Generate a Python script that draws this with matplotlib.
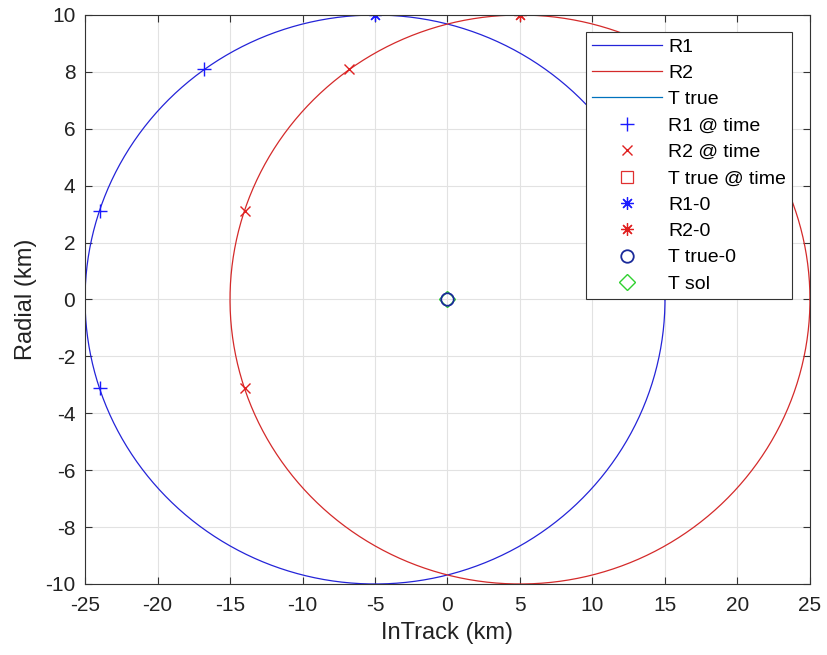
import numpy as np
import matplotlib
matplotlib.use("Agg")
import matplotlib.pyplot as plt

plt.rcParams['font.family'] = ['Liberation Sans', 'DejaVu Sans']
plt.rcParams['axes.unicode_minus'] = False

# ---- data ----
# ellipses (centre x, centre y, semi-axis x, semi-axis y)
r1_ell = (-5.0, 0.0, 20.0, 10.0)
r2_ell = (5.0, 0.0, 20.0, 10.0)
t_true_x, t_true_y = [0.0], [0.0]
r1_time_x = [-16.8, -24.0, -24.0]
r1_time_y = [8.1, 3.1, -3.1]
r2_time_x = [-6.8, -14.0, -14.0]
r2_time_y = [8.1, 3.1, -3.1]
t_time_x, t_time_y = [], []
r1_0 = ([-5.0], [10.0])
r2_0 = ([5.0], [10.0])
t_true0 = ([0.0], [0.0])
t_sol = ([0.0], [0.0])
xticks = np.arange(-25, 26, 5)
yticks = np.arange(-10, 11, 2)

def ellipse_pts(e, n=400):
    th = np.linspace(0, 2 * np.pi, n)
    return e[0] + e[2] * np.cos(th), e[1] + e[3] * np.sin(th)

fig = plt.figure(figsize=(8.27, 6.55), dpi=100)
ax = fig.add_axes([0.1028, 0.1084, 0.8766, 0.8687])

blue, red = '#2424d8', '#d42a2a'
star = (8, 2, 0)   # 8-spoke asterisk like matlab '*'
ax.plot(*ellipse_pts(r1_ell), color=blue, lw=0.9, label='R1')
ax.plot(*ellipse_pts(r2_ell), color=red, lw=0.9, label='R2')
ax.plot(t_true_x, t_true_y, color='#0072BD', lw=0.9, label='T true')
ax.plot(r1_time_x, r1_time_y, '+', color='#1a1aff', ms=10, mew=1.0, label='R1 @ time')
ax.plot(r2_time_x, r2_time_y, 'x', color='#e02020', ms=7, mew=1.0, label='R2 @ time')
ax.plot(t_time_x, t_time_y, 's', mfc='none', mec='#e03030', ms=8, mew=0.9, label='T true @ time')
ax.plot(*r1_0, marker=star, ls='none', color='#1a1aff', ms=9, mew=0.9, label='R1-0')
ax.plot(*r2_0, marker=star, ls='none', color='#e02020', ms=9, mew=0.9, label='R2-0')
ax.plot(*t_true0, 'o', mfc='none', mec='#1a2a9a', ms=9, mew=1.3, label='T true-0', zorder=4)
ax.plot(*t_sol, 'D', mfc='none', mec='#30d030', ms=8, mew=1.0, label='T sol', zorder=3)

ax.set_xlim(-25, 25)
ax.set_ylim(-10, 10)
ax.set_xticks(xticks)
ax.set_yticks(yticks)
ax.grid(True, color='#e2e2e2', lw=0.8)
ax.set_axisbelow(True)
ax.tick_params(direction='in', top=True, right=True, labelsize=15, length=5, pad=7,
               color='#333333', labelcolor='#222222')
ax.tick_params(axis='x', pad=9)
for s in ax.spines.values():
    s.set_color('#333333')
    s.set_linewidth(0.8)
ax.set_xlabel('InTrack (km)', fontsize=17, color='#222222', labelpad=5)
ax.set_ylabel('Radial (km)', fontsize=17, color='#222222', labelpad=6)

leg = ax.legend(loc='upper right', bbox_to_anchor=(0.975, 0.970), fontsize=14,
                handlelength=3.6, handletextpad=0.3, labelspacing=0.45,
                borderpad=0.3, borderaxespad=0.0, fancybox=False, framealpha=1)
leg.get_frame().set_edgecolor('#333333')
leg.get_frame().set_linewidth(0.8)

fig.savefig('out.png', dpi=100)
